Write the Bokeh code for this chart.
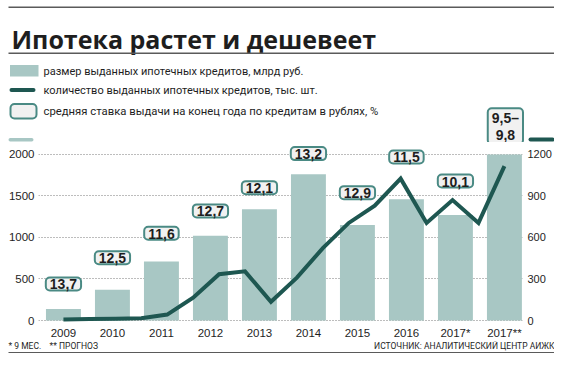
from bokeh.plotting import figure
from bokeh.layouts import column
from bokeh.models import Range1d, LinearAxis, FixedTicker, Label, BoxAnnotation
from bokeh.embed import file_html
from bokeh.resources import INLINE

# ---- data ----
categories = ["2009", "2010", "2011", "2012", "2013", "2014", "2015", "2016", "2017*", "2017**"]
loan_volume = [140, 370, 710, 1020, 1340, 1760, 1150, 1460, 1270, 2000]          # млрд руб.
loan_count = [8, 10, 12, 16, 43, 165, 335, 355, 135, 310, 523, 705, 830, 1025, 705, 870, 705, 1115]  # тыс. шт. (по полугодиям)
rate_labels = ["13,7", "12,5", "11,6", "12,7", "12,1", "13,2", "12,9", "11,5", "10,1", "9,5–\n9,8"]
left_ticks = [0, 500, 1000, 1500, 2000]
right_ticks = [0, 300, 600, 900, 1200]

# layout helper (vertical placement of the rate boxes, in left-axis units)
label_y = [440, 755, 1050, 1320, 1600, 2010, 1540, 1970, 1680, 2340]

BAR = "#a8c7c4"
LINE = "#1e5751"
BOX_LINE = "#4a8a84"
BOX_FILL = "#f1f1f1"
TXT = "#1e1e1e"
RULE = "#5a5a5a"
TICK_FONT = "Liberation Sans"
LEG_FONT = "Roboto"

W = 554
H_HEAD, H_CHART, H_FOOT = 142, 199, 12
BL, BR, BB = 38, 31, 18

XS, XE = -0.509, 9.369
YS, YE = -24.0, 2143.7
RIGHT_K = max(right_ticks) / max(left_ticks)
x_px = (W - BL - BR) / (XE - XS)
y_px = (H_CHART - BB) / (YE - YS)


def plain(h):
    f = figure(width=W, height=h, output_backend="svg", toolbar_location=None,
               x_range=Range1d(0, W), y_range=Range1d(h, 0), min_border=0,
               x_axis_type=None, y_axis_type=None, frame_align=False)
    f.grid.visible = False
    f.outline_line_color = None
    return f


def rate_box(i):
    return dict(x=i, y=label_y[i], text=rate_labels[i], text_align="center", text_baseline="middle",
                text_font="Liberation Sans", text_font_style="bold", text_font_size="14px",
                text_color=TXT, text_line_height=1.05,
                background_fill_color=BOX_FILL, border_line_color=BOX_LINE, border_line_width=2,
                border_radius=4, padding=dict(left=4, right=4, top=2, bottom=1))


# ---------------- header ----------------
hd = plain(H_HEAD)
hd.extra_x_ranges = {"cat": Range1d(XS - BL / x_px, XE + BR / x_px)}
hd.extra_y_ranges = {"val": Range1d(YE, YE + H_HEAD / y_px)}


def hbox(l, r, t, b, fig=None, **kw):
    (fig or hd).add_layout(BoxAnnotation(left=l, right=r, top=t, bottom=b, level="overlay", **kw))


def htext(fig, x, y, text, **kw):
    fig.add_layout(Label(x=x, y=y, text=text, **kw))


hbox(8, 554, 6, 7.5, fill_color=RULE, fill_alpha=1, line_color=None)
htext(hd, 11, 38.5, "Ипотека растет и дешевеет", text_font="Open Sans", text_font_style="bold",
      text_font_size="25px", text_color=TXT, text_baseline="alphabetic")
hbox(8, 554, 52, 53.5, fill_color=RULE, fill_alpha=1, line_color=None)

hbox(9.5, 38, 64.5, 76, fill_color=BAR, fill_alpha=1, line_color=None)
htext(hd, 43, 70.5, "размер выданных ипотечных кредитов, млрд руб.", text_font=LEG_FONT,
      text_font_size="11px", text_color=TXT, text_baseline="middle")
hbox(9, 35, 87.5, 91.5, fill_color=LINE, fill_alpha=1, line_color=None, border_radius=2)
htext(hd, 43, 89.5, "количество выданных ипотечных кредитов, тыс. шт.", text_font=LEG_FONT,
      text_font_size="11px", text_color=TXT, text_baseline="middle")
hbox(10, 36, 103.5, 118, fill_color=BOX_FILL, fill_alpha=1, line_color=BOX_LINE, line_width=2,
     line_alpha=1, border_radius=4)
htext(hd, 43, 110.5, "средняя ставка выдачи на конец года по кредитам в рублях, %", text_font=LEG_FONT,
      text_font_size="11.3px", text_color=TXT, text_baseline="middle")

# axis key swatches
hbox(8, 33, 137.5, 141, fill_color=BAR, fill_alpha=1, line_color=None, border_radius=2)
hbox(528, 554, 137, 141, fill_color=LINE, fill_alpha=1, line_color=None, border_radius=2)

# ---------------- chart ----------------
p = figure(width=W, height=H_CHART, output_backend="svg", toolbar_location=None,
           x_range=Range1d(XS, XE), y_range=Range1d(YS, YE), frame_align=False,
           min_border_left=BL, min_border_right=BR, min_border_top=0, min_border_bottom=BB)
p.outline_line_color = None
p.extra_y_ranges = {"count": Range1d(YS * RIGHT_K, YE * RIGHT_K)}


def style_axis(ax, standoff, size="11.5px"):
    ax.axis_line_color = None
    ax.major_tick_line_color = None
    ax.minor_tick_line_color = None
    ax.major_tick_out = 0
    ax.major_tick_in = 0
    ax.minor_tick_out = 0
    ax.minor_tick_in = 0
    ax.major_label_standoff = standoff
    ax.major_label_text_font = TICK_FONT
    ax.major_label_text_font_size = size
    ax.major_label_text_color = TXT


ya = p.yaxis[0]
ya.ticker = FixedTicker(ticks=left_ticks)
style_axis(ya, 4)

ra = LinearAxis(y_range_name="count", ticker=FixedTicker(ticks=right_ticks))
style_axis(ra, 5, "11px")
p.add_layout(ra, "right")

xa = p.xaxis[0]
xa.ticker = FixedTicker(ticks=list(range(len(categories))))
xa.major_label_overrides = {i: c for i, c in enumerate(categories)}
style_axis(xa, 4)

p.xgrid.visible = False
p.ygrid.ticker = FixedTicker(ticks=left_ticks)
p.ygrid.grid_line_color = "#7a7a7a"
p.ygrid.grid_line_dash = "1 2"
p.ygrid.grid_line_width = 1

xs = list(range(len(categories)))
p.vbar(x=xs, top=loan_volume, width=0.713, fill_color=BAR, line_color=None)
n = len(loan_count)
line_x = [k * (len(categories) - 1) / (n - 1) for k in range(n)]
p.line(x=line_x, y=loan_count, y_range_name="count", line_color=LINE, line_width=4, line_join="miter")

for i in range(len(rate_labels)):
    if label_y[i] > YE - 60:
        hd.add_layout(Label(x_range_name="cat", y_range_name="val", **rate_box(i)))
    else:
        p.add_layout(Label(**rate_box(i)))

# ---------------- footer ----------------
ft = plain(H_FOOT)
htext(ft, 8, 4.5, "* 9 МЕС.\u00a0\u00a0\u00a0\u00a0** ПРОГНОЗ", text_font=LEG_FONT, text_font_size="8.5px",
      text_color=TXT, text_baseline="middle")
htext(ft, 554, 4.5, "ИСТОЧНИК: АНАЛИТИЧЕСКИЙ ЦЕНТР АИЖК", text_font=LEG_FONT, text_font_size="8.5px",
      text_color=TXT, text_baseline="middle", text_align="right")
hbox(8, 554, 10.5, 12, fig=ft, fill_color=RULE, fill_alpha=1, line_color=None)

layout = column(hd, p, ft, spacing=0)
open("out.html", "w").write(file_html(layout, INLINE))
